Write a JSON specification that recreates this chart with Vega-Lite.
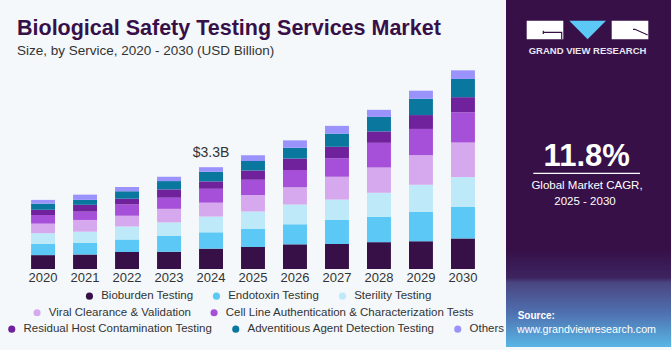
{
  "$schema": "https://vega.github.io/schema/vega-lite/v6.json",
  "background": "#f4f8fb",
  "padding": {"left": 0, "top": 0, "right": 0, "bottom": 3},
  "spacing": 0,
  "bounds": "flush",
  "config": {"font": "Liberation Sans", "view": {"stroke": null}},
  "hconcat": [
    {
      "width": 506,
      "height": 269,
      "title": {
        "text": "Biological Safety Testing Services Market",
        "subtitle": "Size, by Service, 2020 - 2030 (USD Billion)",
        "anchor": "start",
        "frame": "group",
        "offset": -57,
        "dx": 17,
        "fontSize": 21.5,
        "fontWeight": "bold",
        "color": "#371048",
        "subtitleFontSize": 13.5,
        "subtitleColor": "#333333",
        "subtitlePadding": 4
      },
      "data": {"values": [
        {"year": "2020", "service": "Bioburden Testing", "value": 0.45},
        {"year": "2020", "service": "Endotoxin Testing", "value": 0.36},
        {"year": "2020", "service": "Sterility Testing", "value": 0.35},
        {"year": "2020", "service": "Viral Clearance & Validation", "value": 0.31},
        {"year": "2020", "service": "Cell Line Authentication & Characterization Tests", "value": 0.28},
        {"year": "2020", "service": "Residual Host Contamination Testing", "value": 0.17},
        {"year": "2020", "service": "Adventitious Agent Detection Testing", "value": 0.20},
        {"year": "2020", "service": "Others", "value": 0.12},
        {"year": "2021", "service": "Bioburden Testing", "value": 0.47},
        {"year": "2021", "service": "Endotoxin Testing", "value": 0.38},
        {"year": "2021", "service": "Sterility Testing", "value": 0.36},
        {"year": "2021", "service": "Viral Clearance & Validation", "value": 0.38},
        {"year": "2021", "service": "Cell Line Authentication & Characterization Tests", "value": 0.27},
        {"year": "2021", "service": "Residual Host Contamination Testing", "value": 0.22},
        {"year": "2021", "service": "Adventitious Agent Detection Testing", "value": 0.16},
        {"year": "2021", "service": "Others", "value": 0.17},
        {"year": "2022", "service": "Bioburden Testing", "value": 0.55},
        {"year": "2022", "service": "Endotoxin Testing", "value": 0.41},
        {"year": "2022", "service": "Sterility Testing", "value": 0.42},
        {"year": "2022", "service": "Viral Clearance & Validation", "value": 0.35},
        {"year": "2022", "service": "Cell Line Authentication & Characterization Tests", "value": 0.36},
        {"year": "2022", "service": "Residual Host Contamination Testing", "value": 0.19},
        {"year": "2022", "service": "Adventitious Agent Detection Testing", "value": 0.24},
        {"year": "2022", "service": "Others", "value": 0.14},
        {"year": "2023", "service": "Bioburden Testing", "value": 0.56},
        {"year": "2023", "service": "Endotoxin Testing", "value": 0.52},
        {"year": "2023", "service": "Sterility Testing", "value": 0.43},
        {"year": "2023", "service": "Viral Clearance & Validation", "value": 0.44},
        {"year": "2023", "service": "Cell Line Authentication & Characterization Tests", "value": 0.36},
        {"year": "2023", "service": "Residual Host Contamination Testing", "value": 0.27},
        {"year": "2023", "service": "Adventitious Agent Detection Testing", "value": 0.27},
        {"year": "2023", "service": "Others", "value": 0.14},
        {"year": "2024", "service": "Bioburden Testing", "value": 0.66},
        {"year": "2024", "service": "Endotoxin Testing", "value": 0.53},
        {"year": "2024", "service": "Sterility Testing", "value": 0.51},
        {"year": "2024", "service": "Viral Clearance & Validation", "value": 0.45},
        {"year": "2024", "service": "Cell Line Authentication & Characterization Tests", "value": 0.45},
        {"year": "2024", "service": "Residual Host Contamination Testing", "value": 0.24},
        {"year": "2024", "service": "Adventitious Agent Detection Testing", "value": 0.31},
        {"year": "2024", "service": "Others", "value": 0.15},
        {"year": "2025", "service": "Bioburden Testing", "value": 0.71},
        {"year": "2025", "service": "Endotoxin Testing", "value": 0.59},
        {"year": "2025", "service": "Sterility Testing", "value": 0.56},
        {"year": "2025", "service": "Viral Clearance & Validation", "value": 0.54},
        {"year": "2025", "service": "Cell Line Authentication & Characterization Tests", "value": 0.49},
        {"year": "2025", "service": "Residual Host Contamination Testing", "value": 0.30},
        {"year": "2025", "service": "Adventitious Agent Detection Testing", "value": 0.31},
        {"year": "2025", "service": "Others", "value": 0.19},
        {"year": "2026", "service": "Bioburden Testing", "value": 0.80},
        {"year": "2026", "service": "Endotoxin Testing", "value": 0.65},
        {"year": "2026", "service": "Sterility Testing", "value": 0.64},
        {"year": "2026", "service": "Viral Clearance & Validation", "value": 0.56},
        {"year": "2026", "service": "Cell Line Authentication & Characterization Tests", "value": 0.56},
        {"year": "2026", "service": "Residual Host Contamination Testing", "value": 0.37},
        {"year": "2026", "service": "Adventitious Agent Detection Testing", "value": 0.35},
        {"year": "2026", "service": "Others", "value": 0.24},
        {"year": "2027", "service": "Bioburden Testing", "value": 0.81},
        {"year": "2027", "service": "Endotoxin Testing", "value": 0.78},
        {"year": "2027", "service": "Sterility Testing", "value": 0.66},
        {"year": "2027", "service": "Viral Clearance & Validation", "value": 0.74},
        {"year": "2027", "service": "Cell Line Authentication & Characterization Tests", "value": 0.60},
        {"year": "2027", "service": "Residual Host Contamination Testing", "value": 0.37},
        {"year": "2027", "service": "Adventitious Agent Detection Testing", "value": 0.43},
        {"year": "2027", "service": "Others", "value": 0.25},
        {"year": "2028", "service": "Bioburden Testing", "value": 0.87},
        {"year": "2028", "service": "Endotoxin Testing", "value": 0.82},
        {"year": "2028", "service": "Sterility Testing", "value": 0.78},
        {"year": "2028", "service": "Viral Clearance & Validation", "value": 0.82},
        {"year": "2028", "service": "Cell Line Authentication & Characterization Tests", "value": 0.80},
        {"year": "2028", "service": "Residual Host Contamination Testing", "value": 0.37},
        {"year": "2028", "service": "Adventitious Agent Detection Testing", "value": 0.47},
        {"year": "2028", "service": "Others", "value": 0.23},
        {"year": "2029", "service": "Bioburden Testing", "value": 0.90},
        {"year": "2029", "service": "Endotoxin Testing", "value": 0.95},
        {"year": "2029", "service": "Sterility Testing", "value": 0.88},
        {"year": "2029", "service": "Viral Clearance & Validation", "value": 0.96},
        {"year": "2029", "service": "Cell Line Authentication & Characterization Tests", "value": 0.85},
        {"year": "2029", "service": "Residual Host Contamination Testing", "value": 0.45},
        {"year": "2029", "service": "Adventitious Agent Detection Testing", "value": 0.53},
        {"year": "2029", "service": "Others", "value": 0.26},
        {"year": "2030", "service": "Bioburden Testing", "value": 0.99},
        {"year": "2030", "service": "Endotoxin Testing", "value": 1.02},
        {"year": "2030", "service": "Sterility Testing", "value": 0.97},
        {"year": "2030", "service": "Viral Clearance & Validation", "value": 1.12},
        {"year": "2030", "service": "Cell Line Authentication & Characterization Tests", "value": 0.98},
        {"year": "2030", "service": "Residual Host Contamination Testing", "value": 0.49},
        {"year": "2030", "service": "Adventitious Agent Detection Testing", "value": 0.59},
        {"year": "2030", "service": "Others", "value": 0.28}
      ]},
      "transform": [{"stack": "value", "groupby": ["year"], "as": ["v0", "v1"]}],
      "encoding": {
        "x": {
          "field": "year", "type": "ordinal",
          "scale": {"paddingInner": 0.43, "paddingOuter": 0.74},
          "axis": {"title": null, "domain": false, "ticks": false, "labelFontSize": 13, "labelColor": "#333333", "labelPadding": 2, "labelAngle": 0}
        }
      },
      "layer": [
        {
          "transform": [{"filter": {"field": "service", "oneOf": ["Bioburden Testing", "Endotoxin Testing", "Sterility Testing"]}}],
          "mark": {"type": "bar"},
          "encoding": {
            "y": {"field": "v1", "type": "quantitative", "scale": {"domain": [0, 8.72], "nice": false}, "axis": null},
            "y2": {"field": "v0"},
            "color": {
              "field": "service", "type": "nominal",
              "scale": {"domain": ["Bioburden Testing", "Endotoxin Testing", "Sterility Testing"], "range": ["#371048", "#5bc8f5", "#bde9f9"]},
              "legend": {"orient": "none", "legendX": 83.7, "legendY": 290, "direction": "horizontal", "title": null, "symbolType": "circle", "symbolSize": 50, "symbolStrokeWidth": 0, "labelFontSize": 11.5, "labelColor": "#333333", "labelOffset": 6, "columnPadding": 17, "padding": 0, "labelLimit": 400}
            }
          }
        },
        {
          "transform": [{"filter": {"field": "service", "oneOf": ["Viral Clearance & Validation", "Cell Line Authentication & Characterization Tests"]}}],
          "mark": {"type": "bar"},
          "encoding": {
            "y": {"field": "v1", "type": "quantitative"},
            "y2": {"field": "v0"},
            "color": {
              "field": "service", "type": "nominal",
              "scale": {"domain": ["Viral Clearance & Validation", "Cell Line Authentication & Characterization Tests"], "range": ["#d6a9ee", "#a64fd8"]},
              "legend": {"orient": "none", "legendX": 31.3, "legendY": 306.7, "direction": "horizontal", "title": null, "symbolType": "circle", "symbolSize": 50, "symbolStrokeWidth": 0, "labelFontSize": 11.5, "labelColor": "#333333", "labelOffset": 6, "columnPadding": 17, "padding": 0, "labelLimit": 400}
            }
          }
        },
        {
          "transform": [{"filter": {"field": "service", "oneOf": ["Residual Host Contamination Testing", "Adventitious Agent Detection Testing", "Others"]}}],
          "mark": {"type": "bar"},
          "encoding": {
            "y": {"field": "v1", "type": "quantitative"},
            "y2": {"field": "v0"},
            "color": {
              "field": "service", "type": "nominal",
              "scale": {"domain": ["Residual Host Contamination Testing", "Adventitious Agent Detection Testing", "Others"], "range": ["#6f229c", "#0a779e", "#9b93fc"]},
              "legend": {"orient": "none", "legendX": 6, "legendY": 323, "direction": "horizontal", "title": null, "symbolType": "circle", "symbolSize": 50, "symbolStrokeWidth": 0, "labelFontSize": 11.5, "labelColor": "#333333", "labelOffset": 6, "columnPadding": 17, "padding": 0, "labelLimit": 400}
            }
          }
        },
        {
          "transform": [{"filter": "datum.year == '2024'"}],
          "mark": {"type": "text", "text": "$3.3B", "dy": -10, "baseline": "alphabetic", "fontSize": 14, "color": "#333333"},
          "encoding": {"y": {"aggregate": "max", "field": "v1", "type": "quantitative"}}
        }
      ],
      "resolve": {"scale": {"color": "independent"}}
    },
    {
      "width": 165,
      "height": 347,
      "data": {"values": [{}]},
      "layer": [
        {
          "mark": {"type": "rect", "fill": {"gradient": "linear", "x1": 0, "y1": 0, "x2": 0, "y2": 1, "stops": [
            {"offset": 0, "color": "#371048"},
            {"offset": 0.72, "color": "#371048"},
            {"offset": 0.8, "color": "#3d2460"},
            {"offset": 0.815, "color": "#4a4682"},
            {"offset": 0.9, "color": "#4f6fae"},
            {"offset": 1, "color": "#58b6e6"}
          ]}},
          "encoding": {}
        },
        {
          "mark": {"type": "point", "shape": "M-61.8,-152.8H-25.2V-134.2H-61.8Z M23.2,-152.8H59.8V-134.2H23.2Z", "size": 4, "filled": true, "fill": "#ffffff", "opacity": 1, "strokeWidth": 0},
          "encoding": {}
        },
        {
          "mark": {"type": "point", "shape": "M-19.2,-152.8H17.5L-0.9,-134.2Z", "size": 4, "filled": true, "fill": "#5bc8f5", "opacity": 1, "strokeWidth": 0},
          "encoding": {}
        },
        {
          "mark": {"type": "point", "shape": "M-45.2,-142.8V-139.5 M-45.2,-141.2H-26.8V-134.2 M44.5,-144.2H46.5L59.2,-138.5", "size": 4, "filled": false, "stroke": "#371048", "strokeWidth": 1.2, "opacity": 1},
          "encoding": {}
        },
        {
          "mark": {"type": "point", "shape": "M-55.2,-0.2H51.5", "size": 4, "filled": false, "stroke": "#ffffff", "strokeWidth": 1.2, "opacity": 1},
          "encoding": {}
        },
        {
          "mark": {"type": "text", "text": "GRAND VIEW RESEARCH", "fontSize": 9.5, "fontWeight": "bold", "color": "#e9e7f0", "align": "center", "baseline": "middle", "dx": -1, "dy": -122.8},
          "encoding": {}
        },
        {
          "mark": {"type": "text", "text": "11.8%", "fontSize": 31, "fontWeight": "bold", "color": "#ffffff", "align": "center", "baseline": "alphabetic", "dx": -1.8, "dy": -7.8},
          "encoding": {}
        },
        {
          "mark": {"type": "text", "text": "Global Market CAGR,", "fontSize": 11.5, "color": "#ffffff", "align": "center", "baseline": "alphabetic", "dx": -1.5, "dy": 15.8},
          "encoding": {}
        },
        {
          "mark": {"type": "text", "text": "2025 - 2030", "fontSize": 11.5, "color": "#ffffff", "align": "center", "baseline": "alphabetic", "dx": -3.5, "dy": 31.2},
          "encoding": {}
        },
        {
          "mark": {"type": "text", "text": "Source:", "fontSize": 10, "fontWeight": "bold", "color": "#ffffff", "align": "left", "baseline": "alphabetic", "dx": -70.8, "dy": 145.5},
          "encoding": {}
        },
        {
          "mark": {"type": "text", "text": "www.grandviewresearch.com", "fontSize": 10.7, "color": "#ffffff", "align": "left", "baseline": "alphabetic", "dx": -71.5, "dy": 159.5},
          "encoding": {}
        }
      ]
    }
  ]
}
